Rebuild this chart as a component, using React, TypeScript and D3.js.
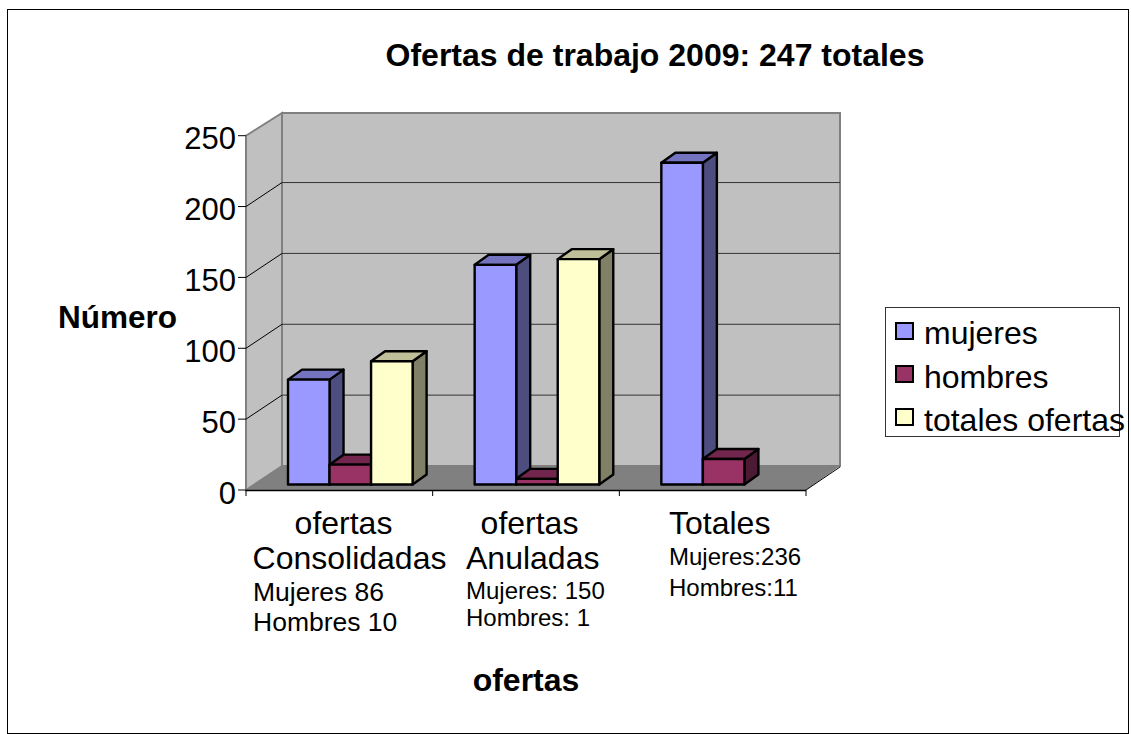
import React from "react";
import * as d3 from "d3";

const categories = ["ofertas Consolidadas", "ofertas Anuladas", "Totales"];
const seriesNames = ["mujeres", "hombres", "totales ofertas"];
const mujeres = [74, 155, 227];
const hombres = [14, 4, 18];
const totalesOfertas: (number | null)[] = [87, 159, null];
const yTicks = [0, 50, 100, 150, 200, 250];
const fronts = ["#9999ff", "#993366", "#ffffcc"];
const tops = ["#7373bf", "#73264d", "#bfbf99"];
const sides = ["#4d4d80", "#4d1a33", "#808066"];

const W = 1131, H = 734;
const y = d3.scaleLinear().domain([0, 250]).range([490, 135.7]);
const x = d3.scaleBand<number>().domain([0, 1, 2]).range([246, 806]);
const dx = 36, dy = -24; // wall depth
const bdx = 14, bdy = -10; // bar depth
const base = 484.5;
const h = (v: number) => y(0) - y(v);
const F = "'Liberation Sans', Arial, sans-serif";

const labels: { x: number; y: number; t: string; s: number }[] = [
  { x: 343.5, y: 533.5, t: "ofertas", s: 32 },
  { x: 349.5, y: 568.5, t: "Consolidadas", s: 32 },
  { x: 253, y: 600.5, t: "Mujeres 86", s: 26.5 },
  { x: 253, y: 631, t: "Hombres 10", s: 26.5 },
  { x: 529.5, y: 533.5, t: "ofertas", s: 32 },
  { x: 466, y: 568.5, t: "Anuladas", s: 32 },
  { x: 466, y: 599, t: "Mujeres: 150", s: 24 },
  { x: 466, y: 626, t: "Hombres: 1", s: 24 },
  { x: 669, y: 533.5, t: "Totales", s: 32 },
  { x: 669, y: 565, t: "Mujeres:236", s: 24 },
  { x: 669, y: 596, t: "Hombres:11", s: 24 },
];

export default function App() {
  const series = [mujeres, hombres, totalesOfertas];
  const barW = x.bandwidth() * 0.2225;
  const bars = series.flatMap((vals, s) =>
    vals.map((v, c) => ({ v, c, s }))
  ).filter((d) => d.v !== null) as { v: number; c: number; s: number }[];
  return (
    <svg width={W} height={H} style={{ position: "absolute", left: 0, top: 0, background: "#fff" }} fontFamily={F}>
      <rect x={7.5} y={9.5} width={1121} height={724} fill="#fff" stroke="#000" strokeWidth={1} />
      <text x={655} y={66} fontSize={32} fontWeight="bold" textAnchor="middle">Ofertas de trabajo 2009: 247 totales</text>

      {/* walls */}
      <polygon points={`246,490 ${246 + dx},${490 + dy} ${246 + dx},113 246,${y(250)}`} fill="#c0c0c0" stroke="#808080" strokeWidth={2} />
      <polygon points={`${246 + dx},113 ${806 + dx - 2},113 ${806 + dx - 2},${490 + dy} ${246 + dx},${490 + dy}`} fill="#c0c0c0" stroke="#808080" strokeWidth={2} />
      <polygon points={`246,490 ${246 + dx},${490 + dy} 840,${490 + dy} 806,490`} fill="#808080" />
      {yTicks.filter((t) => t > 0 && t < 250).map((t) => (
        <g key={t}>
          <line x1={246} y1={y(t)} x2={246 + dx} y2={y(t) + dy} stroke="#000" strokeWidth={1} />
          <line x1={246 + dx} y1={y(t) + dy} x2={840} y2={y(t) + dy} stroke="#333" strokeWidth={1} />
        </g>
      ))}

      {/* axes */}
      <line x1={246} y1={490.5} x2={806} y2={490.5} stroke="#000" strokeWidth={1.5} />
      <line x1={806} y1={490} x2={840} y2={467} stroke="#000" strokeWidth={1} />
      {yTicks.map((t) => (
        <g key={t}>
          <line x1={238} y1={y(t)} x2={246} y2={y(t)} stroke="#000" />
          <text x={236} y={y(t) + 13.5} fontSize={31} textAnchor="end">{t}</text>
        </g>
      ))}
      {[0, 1, 2].map((c) => <line key={c} x1={x(c)!} x2={x(c)!} y1={490} y2={496} stroke="#000" />)}
      <line x1={806} x2={806} y1={490} y2={496} stroke="#000" />

      {/* bars */}
      {bars.map(({ v, c, s }) => {
        const x0 = x(c)! + 42 + s * barW;
        const t = base - h(v);
        const x1 = x0 + barW;
        return (
          <g key={`${c}-${s}`} stroke="#000" strokeWidth={2.4} strokeLinejoin="round">
            <polygon points={`${x1},${t} ${x1 + bdx},${t + bdy} ${x1 + bdx},${base + bdy} ${x1},${base}`} fill={sides[s]} />
            <polygon points={`${x0},${t} ${x0 + bdx},${t + bdy} ${x1 + bdx},${t + bdy} ${x1},${t}`} fill={tops[s]} />
            <rect x={x0} y={t} width={barW} height={base - t} fill={fronts[s]} />
          </g>
        );
      })}

      {/* labels */}
      <text x={117.5} y={328} fontSize={31.5} fontWeight="bold" textAnchor="middle">Número</text>
      <text x={526} y={691} fontSize={32} fontWeight="bold" textAnchor="middle">ofertas</text>
      {labels.map((l, i) => (
        <text key={i} x={l.x} y={l.y} fontSize={l.s} textAnchor={l.t === "ofertas" || l.t === "Consolidadas" ? "middle" : "start"}>{l.t}</text>
      ))}

      {/* legend */}
      <rect x={885.5} y={307.5} width={234} height={129} fill="#fff" stroke="#333" strokeWidth={1} />
      {seriesNames.map((n, i) => (
        <g key={n}>
          <rect x={896} y={323 + i * 43} width={17} height={16} fill={fronts[i]} stroke="#000" strokeWidth={2} />
          <text x={924} y={344 + i * 43.6} fontSize={32}>{n}</text>
        </g>
      ))}
    </svg>
  );
}
